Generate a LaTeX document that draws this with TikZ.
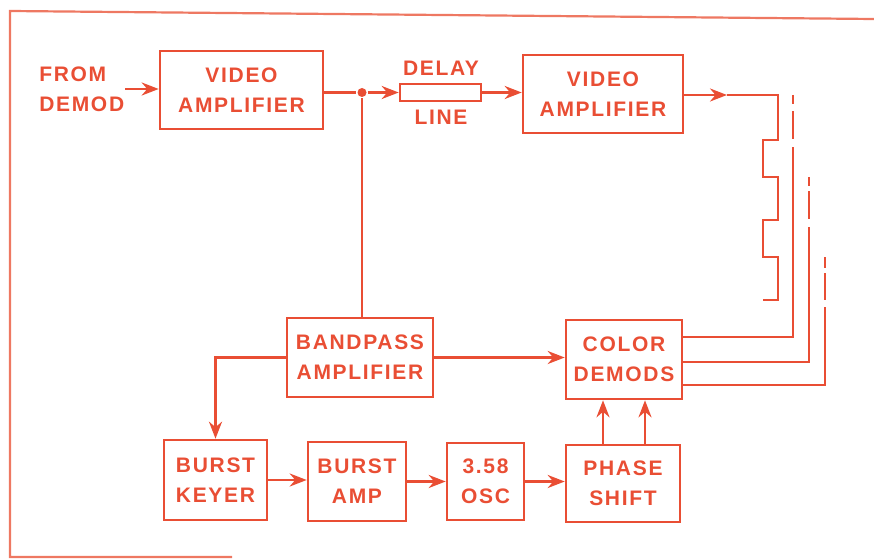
\documentclass[tikz,border=0pt]{standalone}
\usepackage{fontspec}
\setmainfont{Liberation Sans}[LetterSpace=8]
\usetikzlibrary{positioning, arrows.meta}
\definecolor{ink}{RGB}{233,78,52}
\definecolor{edge}{RGB}{238,120,98}

\begin{document}
\begin{tikzpicture}[x=1pt, y=-1pt, >={Stealth[length=17pt, width=13pt]},
      color=ink, line width=2.6pt, font=\fontsize{21}{30}\selectfont\bfseries,
      blk/.style={draw, align=center, inner sep=0pt},
      lbl/.style={align=left, inner sep=0pt},
      dot/.style={circle, fill, inner sep=0pt, minimum size=9pt}]
    \useasboundingbox (0,0) rectangle (874,559);
    % frame of the page
    \draw[edge, line width=2.2pt] (874,19) -- (10,11) -- (10,557) -- (232,557);
    % top row
    \node[lbl, anchor=west] (src) at (38,89) {FROM\\DEMOD};
    \node[blk, minimum width=163pt, minimum height=78pt] (va1) at (241.5,90) {VIDEO\\AMPLIFIER};
    \node[dot] (j) at (362,92.5) {};
    \node[draw, inner sep=0pt, minimum width=81pt, minimum height=17pt] (dl) at (440.5,92.5) {};
    \node[inner sep=0pt] (dlt) at (441,68) {DELAY};
    \node[inner sep=0pt] (dlb) at (441,117) {LINE};
    \node[blk, minimum width=160pt, minimum height=78pt] (va2) at (603,94) {VIDEO\\AMPLIFIER};
    \coordinate (out) at (727,95);
    % middle row
    \node[blk, minimum width=146pt, minimum height=79pt] (bp) at (360,357.5) {BANDPASS\\AMPLIFIER};
    \node[blk, minimum width=116pt, minimum height=79pt] (cd) at (624,359.5) {COLOR\\DEMODS};
    % bottom row
    \node[blk, minimum width=103pt, minimum height=80pt] (bk) at (215.5,480) {BURST\\KEYER};
    \node[blk, minimum width=98pt, minimum height=79pt] (ba) at (357,481.5) {BURST\\AMP};
    \node[blk, minimum width=77pt, minimum height=77pt] (osc) at (485.5,481.5) {3.58\\OSC};
    \node[blk, minimum width=114pt, minimum height=77pt] (ps) at (623,483.5) {PHASE\\SHIFT};
    % signal path
    \draw[->] (src.east) -- (src.east -| va1.west);
    \draw (j -| va1.east) -- (j);
    \draw[->] (j) -- (dl.west);
    \draw[->] (dl.east) -- (dl.east -| va2.west);
    \draw[->] (out -| va2.east) -- (out);
    \draw (out) -- ++(51,0) -- ++(0,45) -- ++(-15,0) -- ++(0,37) -- ++(15,0)
      -- ++(0,43) -- ++(-15,0) -- ++(0,37) -- ++(15,0) -- ++(0,43) -- ++(-15,0);
    \draw (j) -- (j |- bp.north);
    \draw[->] (bp.east) -- (bp.east -| cd.west);
    \draw[->] (bp.west) -| (bk.north);
    \draw[->] (bk.east) -- (bk.east -| ba.west);
    \draw[->] (ba.east) -- (ba.east -| osc.west);
    \draw[->] (osc.east) -- (osc.east -| ps.west);
    \draw[->] ([xshift=-20pt]ps.north) -- ([xshift=-20pt]ps.north |- cd.south);
    \draw[->] ([xshift=22pt]ps.north) -- ([xshift=22pt]ps.north |- cd.south);
    % demodulator outputs, broken off near the top
    \draw (cd.east |- 0,337) -| (793,147);
    \draw (793,95) -- ++(0,9) ++(0,7) -- ++(0,28);
    \draw (cd.east |- 0,362) -| (809,227);
    \draw (809,177) -- ++(0,9) ++(0,5) -- ++(0,28);
    \draw (cd.east |- 0,385) -| (825,307);
    \draw (825,257) -- ++(0,11) ++(0,5) -- ++(0,27);
  \end{tikzpicture}
\end{document}
